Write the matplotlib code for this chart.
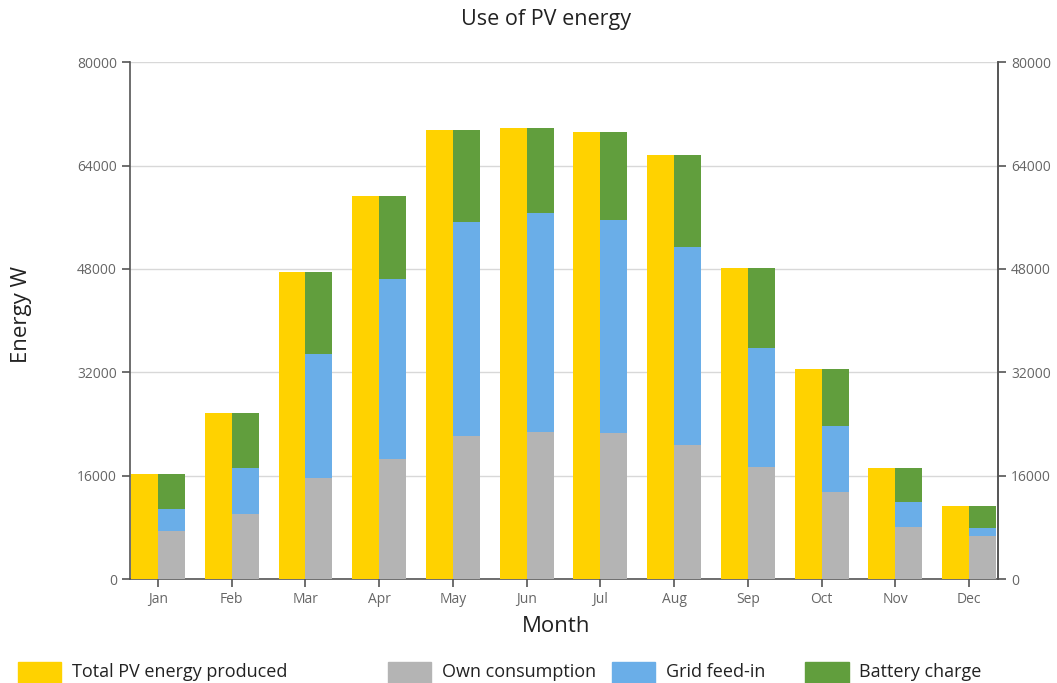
import matplotlib
matplotlib.use("Agg")
import matplotlib.pyplot as plt
import numpy as np

months = ["Jan", "Feb", "Mar", "Apr", "May", "Jun", "Jul", "Aug", "Sep", "Oct", "Nov", "Dec"]
total_pv = [16200, 25700, 47500, 59300, 69500, 69800, 69200, 65600, 48100, 32500, 17200, 11300]
own_consumption = [7400, 10100, 15600, 18600, 22100, 22700, 22600, 20700, 17300, 13500, 8000, 6700]
grid_feed_in = [3400, 7100, 19200, 27800, 33100, 33900, 33000, 30700, 18400, 10200, 3900, 1200]
battery_charge = [5400, 8500, 12700, 12900, 14300, 13200, 13600, 14200, 12400, 8800, 5300, 3400]
yticks = [0, 16000, 32000, 48000, 64000, 80000]

plt.rcParams['font.family'] = ['Open Sans', 'DejaVu Sans']

fig = plt.figure(figsize=(10.57, 6.83), dpi=100)
ax = fig.add_axes([0.123, 0.152, 0.821, 0.757])

x = np.arange(len(months))
w = 0.366
c_yellow = "#FFD200"
c_gray = "#B4B4B4"
c_blue = "#6AAEE8"
c_green = "#619E3D"

ax.bar(x - w / 2, total_pv, width=w, color=c_yellow, zorder=3)
own = np.array(own_consumption)
grid = np.array(grid_feed_in)
bat = np.array(battery_charge)
ax.bar(x + w / 2, own, width=w, color=c_gray, zorder=3)
ax.bar(x + w / 2, grid, width=w, bottom=own, color=c_blue, zorder=3)
ax.bar(x + w / 2, bat, width=w, bottom=own + grid, color=c_green, zorder=3)

ax.set_xlim(-0.38, 11.39)
ax.set_ylim(0, 80000)
ax.set_yticks(yticks)
ax.set_yticklabels([str(v) for v in yticks])
ax.set_xticks(x)
ax.set_xticklabels(months)
ax.grid(axis="y", color="#D8D8D8", linewidth=1, zorder=0)
ax.spines["top"].set_visible(False)
for s in ["left", "right", "bottom"]:
    ax.spines[s].set_color("#555555")
    ax.spines[s].set_linewidth(1.2)
ax.tick_params(axis="both", colors="#555555", labelcolor="#666666", labelsize=10, length=6, width=1.2)

ax2 = ax.twinx()
ax2.set_ylim(0, 80000)
ax2.set_yticks(yticks)
ax2.set_yticklabels([str(v) for v in yticks])
ax2.spines["top"].set_visible(False)
ax2.spines["left"].set_visible(False)
ax2.spines["bottom"].set_visible(False)
ax2.spines["right"].set_color("#555555")
ax2.spines["right"].set_linewidth(1.2)
ax2.tick_params(axis="y", colors="#555555", labelcolor="#666666", labelsize=10, length=6, width=1.2)

fig.text(0.517, 0.972, "Use of PV energy", ha="center", va="center", fontsize=15.5, color="#222222")
fig.text(0.02, 0.54, "Energy W", ha="center", va="center", rotation=90, fontsize=16, color="#222222")
fig.text(0.526, 0.083, "Month", ha="center", va="center", fontsize=16, color="#222222")

legend_items = [("Total PV energy produced", c_yellow, 0.017),
                ("Own consumption", c_gray, 0.367),
                ("Grid feed-in", c_blue, 0.579),
                ("Battery charge", c_green, 0.762)]
for label, col, xpos in legend_items:
    fig.patches.append(matplotlib.patches.Rectangle((xpos, 0.0), 0.041, 0.031,
                                                    transform=fig.transFigure, color=col, figure=fig))
    fig.text(xpos + 0.051, 0.016, label, ha="left", va="center", fontsize=13, color="#222222")

fig.savefig("out.png", dpi=100)
